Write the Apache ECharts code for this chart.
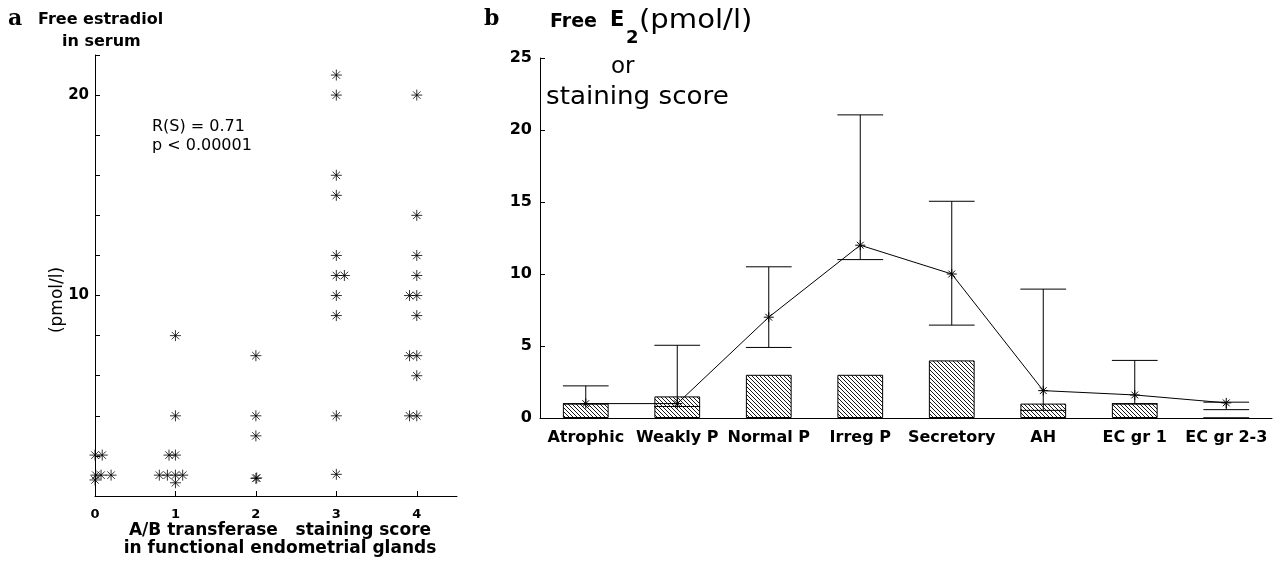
<!DOCTYPE html>
<html><head><meta charset="utf-8">
<script src="https://cdn.jsdelivr.net/npm/echarts@6/dist/echarts.min.js"></script>
<style>html,body{margin:0;padding:0;background:#fff}#c{width:1280px;height:564px}</style>
</head><body><div id="c"></div>
<script>
// ---------- Panel a: scatter (staining score vs free estradiol) ----------
const scoreA = [0,0.09,0.01,0.075,0.2,0,
  1,1,0.92,1,0.8,0.9,1,1.09,1,
  2,2,2,2,2.01,
  3,3,3,3,3,3,3.1,3,3,3,3,
  4,4,4,4,3.91,4,4,3.91,4,4,3.91,4];
const e2A = [2.04,2.04,1.04,1.04,1.04,0.8,
  8,4,2.04,2.04,1.04,1.04,1.04,1.04,0.66,
  7,4,3,0.88,0.9,
  21,20,16,15,12,11,11,10,9,4,1.08,
  20,14,12,11,10,10,9,7,7,6,4,4];
const xTicksA = [0,1,2,3,4];
const yLabelsA = [10,20];

// ---------- Panel b: groups ----------
const groups = ['Atrophic','Weakly P','Normal P','Irreg P','Secretory','AH','EC gr 1','EC gr 2-3'];
const stainScore = [1,1.5,3,3,4,1,1,0];
const e2Mean = [1.0,1.0,7.0,12.0,10.0,1.9,1.6,1.05];
const e2Low  = [1.0,0.8,4.9,11.0,6.45,0.53,1.0,0.58];
const e2High = [2.23,5.05,10.5,21.05,15.05,8.95,4.0,1.1];

const starPath = 'path://M5,0L5,10M0,5L10,5M1.6,1.6L8.4,8.4M8.4,1.6L1.6,8.4';

function hatch(){
  const c = document.createElement('canvas'); c.width = 4; c.height = 4;
  const g = c.getContext('2d');
  g.fillStyle = '#fff'; g.fillRect(0,0,4,4);
  g.strokeStyle = '#000'; g.lineWidth = 0.9;
  g.beginPath();
  g.moveTo(-1,-1); g.lineTo(5,5);
  g.moveTo(-1,3); g.lineTo(1,5);
  g.moveTo(3,-1); g.lineTo(5,1);
  g.stroke();
  return c;
}

const SANS = 'DejaVu Sans';
const chart = echarts.init(document.getElementById('c'), null, {renderer:'canvas'});
const axisLine = {show:true, lineStyle:{color:'#000', width:1}};

chart.setOption({
  animation:false,
  backgroundColor:'#fff',
  grid:[
    {left:95, top:55, width:362, height:441},
    {left:540, top:58, width:732, height:360}
  ],
  xAxis:[
    {gridIndex:0, type:'value', min:0, max:4.5, interval:1,
     axisLine:axisLine, splitLine:{show:false},
     axisTick:{show:true, inside:true, length:5, lineStyle:{color:'#000'}, customValues:xTicksA},
     axisLabel:{color:'#000', fontFamily:SANS, fontWeight:'bold', fontSize:13, margin:12,
       customValues:xTicksA,
       formatter:v => xTicksA.includes(v) ? String(v) : ''}},
    {gridIndex:1, type:'category', data:groups, boundaryGap:true,
     axisLine:axisLine, axisTick:{show:false}, splitLine:{show:false},
     axisLabel:{color:'#000', fontFamily:SANS, fontWeight:'bold', fontSize:16, margin:12, interval:0}}
  ],
  yAxis:[
    {gridIndex:0, type:'value', min:0, max:22, interval:2,
     axisLine:axisLine, splitLine:{show:false},
     axisTick:{show:true, inside:true, length:5, lineStyle:{color:'#000'}},
     axisLabel:{color:'#000', fontFamily:SANS, fontWeight:'bold', fontSize:15, margin:6,
       formatter:v => yLabelsA.includes(v) ? String(v) : ''}},
    {gridIndex:1, type:'value', min:0, max:25, interval:5,
     axisLine:axisLine, splitLine:{show:false},
     axisTick:{show:true, inside:true, length:5, lineStyle:{color:'#000'}},
     axisLabel:{color:'#000', fontFamily:SANS, fontWeight:'bold', fontSize:16, margin:8}}
  ],
  series:[
    {type:'scatter', xAxisIndex:0, yAxisIndex:0,
     data: scoreA.map((x,i)=>[x, e2A[i]]),
     symbol:starPath, symbolSize:11,
     itemStyle:{color:'#000', borderColor:'#000', borderWidth:1}},
    {type:'bar', xAxisIndex:1, yAxisIndex:1, data:stainScore, barWidth:'50%',
     itemStyle:{color:{image:hatch(), repeat:'repeat'}, borderColor:'#000', borderWidth:1}},
    {type:'custom', xAxisIndex:1, yAxisIndex:1,
     data: groups.map((g,i)=>[i, e2Low[i], e2High[i]]),
     renderItem:function(params, api){
       const x = api.value(0);
       const pHi = api.coord([x, api.value(2)]);
       const pLo = api.coord([x, api.value(1)]);
       const hw = api.size([1,0])[0]*0.25;
       const st = {stroke:'#000', lineWidth:1};
       return {type:'group', children:[
         {type:'line', shape:{x1:pHi[0], y1:pHi[1], x2:pLo[0], y2:pLo[1]}, style:st},
         {type:'line', shape:{x1:pHi[0]-hw, y1:pHi[1], x2:pHi[0]+hw, y2:pHi[1]}, style:st},
         {type:'line', shape:{x1:pLo[0]-hw, y1:pLo[1], x2:pLo[0]+hw, y2:pLo[1]}, style:st}
       ]};
     }, z:3},
    {type:'line', xAxisIndex:1, yAxisIndex:1, data:e2Mean,
     symbol:starPath, symbolSize:10, showAllSymbol:true,
     lineStyle:{color:'#000', width:1},
     itemStyle:{color:'#000', borderColor:'#000', borderWidth:1}, z:4}
  ],
  graphic:[
    {type:'text', left:8, top:8, style:{text:'a', font:'bold 22px "DejaVu Serif"', fill:'#000'}},
    {type:'text', left:38, top:12, style:{text:'Free estradiol', font:'bold 16px "DejaVu Sans"', fill:'#000'}},
    {type:'text', left:62, top:34, style:{text:'in serum', font:'bold 16px "DejaVu Sans"', fill:'#000'}},
    {type:'text', left:152, top:119, style:{text:'R(S) = 0.71', font:'16px "DejaVu Sans"', fill:'#000'}},
    {type:'text', left:152, top:138, style:{text:'p < 0.00001', font:'16px "DejaVu Sans"', fill:'#000'}},
    {type:'text', x:58, y:300, rotation:Math.PI/2,
     style:{text:'(pmol/l)', font:'17px "DejaVu Sans"', fill:'#000', align:'center', verticalAlign:'middle'}},
    {type:'text', x:280, y:531, style:{text:'A/B transferase   staining score', font:'bold 17px "DejaVu Sans"', fill:'#000', align:'center', verticalAlign:'middle'}},
    {type:'text', x:280, y:549, style:{text:'in functional endometrial glands', font:'bold 17px "DejaVu Sans"', fill:'#000', align:'center', verticalAlign:'middle'}},
    {type:'text', left:484, top:8, style:{text:'b', font:'bold 22px "DejaVu Serif"', fill:'#000'}},
    {type:'text', x:550, y:22, style:{text:'Free', font:'bold 19px "DejaVu Sans"', fill:'#000', verticalAlign:'middle'}},
    {type:'text', x:610, y:21, style:{text:'E', font:'bold 21px "DejaVu Sans"', fill:'#000', verticalAlign:'middle'}},
    {type:'text', x:626, y:38, style:{text:'2', font:'bold 18px "DejaVu Sans"', fill:'#000', verticalAlign:'middle'}},
    {type:'text', x:639, y:21, scaleX:1.12, style:{text:'(pmol/l)', font:'26px "DejaVu Sans"', fill:'#000', verticalAlign:'middle'}},
    {type:'text', x:611, y:67, style:{text:'or', font:'23px "DejaVu Sans"', fill:'#000', verticalAlign:'middle'}},
    {type:'text', x:546, y:98, scaleX:1.09, style:{text:'staining score', font:'24px "DejaVu Sans"', fill:'#000', verticalAlign:'middle'}}
  ]
});
</script></body></html>
